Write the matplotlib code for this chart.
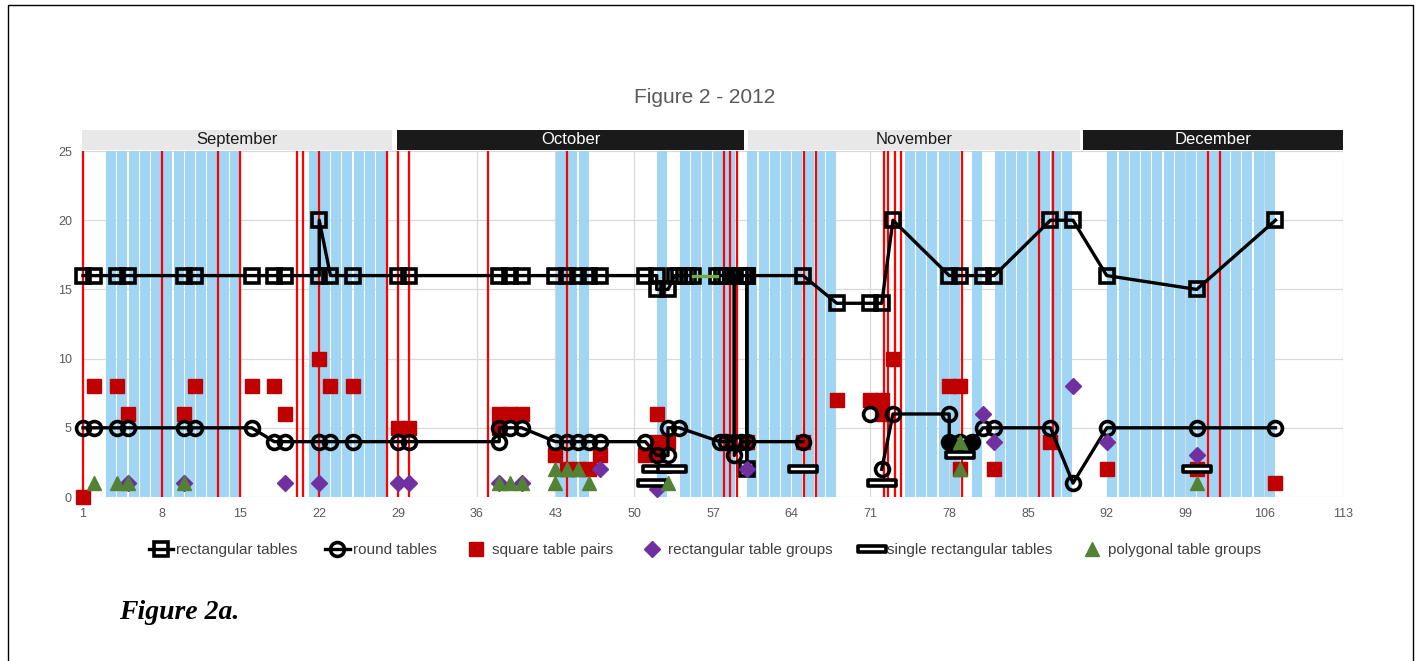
import matplotlib
matplotlib.use("Agg")
import matplotlib.pyplot as plt
import numpy as np
from matplotlib.path import Path
from matplotlib.patches import Rectangle

nan = np.nan

# days shaded light blue (each covers day d .. d+1)
blue_days = [3, 4, 5, 6, 7, 8, 9, 10, 11, 12, 13, 14,
             21, 22, 23, 24, 25, 26, 27,
             43, 44, 45, 52, 54, 55, 56, 57, 58,
             60, 61, 62, 63, 64, 65, 66, 67,
             74, 75, 76, 77, 78, 80, 82, 83, 84, 85, 86, 87, 88,
             92, 93, 94, 95, 96, 97, 98, 99, 100, 101, 102, 103, 104, 105, 106]

red_lines = [1, 8, 13, 15, 20, 20.6, 22, 28, 29, 30, 37, 44, 58, 58.5, 59.1,
             65.1, 66.2, 72.2, 72.6, 73.2, 73.7, 79.1, 86, 87.2, 101, 102.1]

months = ['September', 'October', 'November', 'December']
month_start = [0.95, 28.9, 60.1, 89.9]
month_end = [28.5, 59.8, 89.6, 113]

rect_x = [1, 2, 4, 5, 10, 11, 16, 18, 19, 22, 22, 23, 25, 29, 30, 38, 39, 40,
          43, 44, 45, 46, 47, 51, 52, 52, 53, 53.6, 54, 54.4, 54.8, 55.2, nan,
          57.4, 57.8, 58.2, 58.6, 59, 59.4, 59.8, 60, 60, 60, 65, 68, 71, 72, 73,
          78, 79, 81, 82, 87, 89, 92, 100, 107]
rect_y = [16, 16, 16, 16, 16, 16, 16, 16, 16, 16, 20, 16, 16, 16, 16, 16, 16, 16,
          16, 16, 16, 16, 16, 16, 16, 15, 15, 16, 16, 16, 16, 16, nan,
          16, 16, 16, 16, 16, 16, 16, 16, 2, 16, 16, 14, 14, 14, 20,
          16, 16, 16, 16, 20, 20, 16, 15, 20]

green_seg_x = [55.2, 57.4]
green_seg_y = [16, 16]

round_x = [1, 2, 4, 5, 10, 11, 16, 18, 19, 22, 23, 25, 29, 30, 38, 38, 39, 40,
           43, 44, 45, 46, 47, 51, 52, 53, 53, 54, 57.6, 58.2, 58.9, 58.9, 58.9,
           59.5, 60, 65, nan, 71, nan, 72, 73, 78, 78, 79, 80, 81, 82, 87, 89,
           92, 100, 107]
round_y = [5, 5, 5, 5, 5, 5, 5, 4, 4, 4, 4, 4, 4, 4, 4, 5, 5, 5,
           4, 4, 4, 4, 4, 4, 3, 3, 5, 5, 4, 4, 4, 16, 3,
           4, 4, 4, nan, 6, nan, 2, 6, 6, 4, 4, 4, 5, 5, 5, 1,
           5, 5, 5]
round_filled_x = [78, 80]
round_filled_y = [4, 4]

pair_x = [1, 2, 4, 5, 10, 11, 16, 18, 19, 22, 23, 25, 29, 30, 38, 39, 40, 38,
          43, 44, 45, 46, 47, 52, 51, 52, 53, 52, 60, 65, 68, 71, 72, 72, 73,
          78, 79, 79, 82, 87, 92, 100, 107]
pair_y = [0, 8, 8, 6, 6, 8, 8, 8, 6, 10, 8, 8, 5, 5, 6, 6, 6, 5,
          3, 2, 2, 2, 3, 6, 3, 4, 4, 3, 4, 4, 7, 7, 7, 6, 10,
          8, 8, 2, 2, 4, 2, 2, 1]

group_x = [5, 10, 19, 22, 29, 30, 38, 40, 47, 52, 60, 81, 82, 89, 92, 100]
group_y = [1, 1, 1, 1, 1, 1, 1, 1, 2, 0.6, 2, 6, 4, 8, 4, 3]

single_x = [51.6, 52, 53.4, 65, 72, 79, 100]
single_y = [1, 2, 2, 2, 1, 3, 2]

poly_x = [2, 4, 5, 10, 38, 39, 40, 43, 43, 44, 45, 46, 53, 79, 79, 100]
poly_y = [1, 1, 1, 1, 1, 1, 1, 2, 1, 2, 2, 1, 1, 4, 2, 1]

x_ticks = [1, 8, 15, 22, 29, 36, 43, 50, 57, 64, 71, 78, 85, 92, 99, 106, 113]
y_ticks = [0, 5, 10, 15, 20, 25]

fig = plt.figure(figsize=(14.21, 6.61), dpi=100)
ax = fig.add_axes([0.0584, 0.2481, 0.8867, 0.5234])

ax.bar([d + 0.5 for d in blue_days], 25, width=0.9, color='#a0d6f4', zorder=1)
ax.vlines(red_lines, 0, 25, color='#ff0000', lw=1.6, zorder=2, clip_on=False)

ax.plot(pair_x, pair_y, ls='none', marker='s', ms=9.5, color='#c00000',
        zorder=3, clip_on=False, label='square table pairs')
ax.plot(rect_x, rect_y, color='black', lw=2.4, marker='s', ms=10, mfc='none',
        mec='black', mew=2.6, zorder=5, clip_on=False, label='rectangular tables')
ax.plot(green_seg_x, green_seg_y, color='#70ad47', lw=2.4, zorder=5)
ax.plot(round_x, round_y, color='black', lw=2.4, marker='o', ms=10, mfc='none',
        mec='black', mew=2.6, zorder=5, clip_on=False, label='round tables')
ax.plot(round_filled_x, round_filled_y, ls='none', marker='o', ms=9,
        color='black', zorder=5)
ax.plot(group_x, group_y, ls='none', marker='D', ms=8, color='#7030a0',
        zorder=6, clip_on=False, label='rectangular table groups')

bar_marker = Path([(-1, -0.22), (1, -0.22), (1, 0.22), (-1, 0.22), (-1, -0.22)],
                  [Path.MOVETO, Path.LINETO, Path.LINETO, Path.LINETO, Path.CLOSEPOLY])
ax.plot(single_x, single_y, ls='none', marker=bar_marker, ms=20, mfc='white',
        mec='black', mew=2.6, zorder=7, clip_on=False,
        label='single rectangular tables')
ax.plot(poly_x, poly_y, ls='none', marker='^', ms=10, color='#548235',
        zorder=8, clip_on=False, label='polygonal table groups')

# month header bars
for name, s, e, i in zip(months, month_start, month_end, range(4)):
    dark = i % 2 == 1
    ax.bar((s + e) / 2, 1.45, width=e - s, bottom=25.05,
           color='#1a1a1a' if dark else '#e8e8e8', clip_on=False, zorder=1)
    ax.text((s + e) / 2, 25.8, name, ha='center', va='center', fontsize=12,
            color='white' if dark else '#1a1a1a', family='Liberation Sans')

ax.set_xlim(1, 113)
ax.set_ylim(0, 25)
ax.set_xticks(x_ticks)
ax.set_yticks(y_ticks)
ax.grid(color='#d9d9d9', lw=0.9, zorder=0)
ax.set_axisbelow(True)
for sp in ax.spines.values():
    sp.set_visible(False)
ax.tick_params(length=0, labelsize=9, labelcolor='#595959', pad=8)
for lab in ax.get_xticklabels() + ax.get_yticklabels():
    lab.set_family('Liberation Sans')

fig.text(0.496, 0.853, 'Figure 2 - 2012', ha='center', va='center',
         fontsize=15, color='#595959', family='Liberation Sans')

handles, labels = ax.get_legend_handles_labels()
order = ['rectangular tables', 'round tables', 'square table pairs',
         'rectangular table groups', 'single rectangular tables', 'polygonal table groups']
hmap = dict(zip(labels, handles))
fig.legend([hmap[k] for k in order], order, loc='center', bbox_to_anchor=(0.496, 0.168),
           ncol=6, frameon=False, handlelength=1.6, handletextpad=0.2,
           columnspacing=1.8, prop={'family': 'Liberation Sans', 'size': 11},
           labelcolor='#404040')

fig.text(0.084, 0.074, 'Figure 2a.', fontsize=20, fontweight='bold', style='italic',
         family='Liberation Serif', va='center')

fig.patches.append(Rectangle((8 / 1421, -0.02), 1405 / 1421, 1.01 - 5 / 661 + 0.01,
                             transform=fig.transFigure, fill=False, ec='black', lw=1))

fig.savefig('out.png', dpi=100)
